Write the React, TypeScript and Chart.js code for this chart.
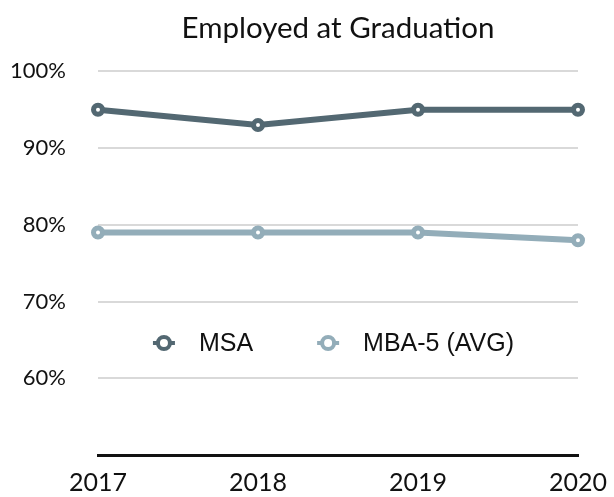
import React, { useEffect, useRef } from "react";
import { Chart, registerables } from "chart.js";

Chart.register(...registerables);

const years = ["2017", "2018", "2019", "2020"];
const msa = [95, 93, 95, 95];
const mba5 = [79, 79, 79, 78];
const seriesNames = ["MSA", "MBA-5 (AVG)"];
const seriesColors = ["#536872", "#93adb9"];
const titleText = "Employed at Graduation";

const legendPlugin = {
  id: "innerLegend",
  afterDraw(chart: any) {
    const { ctx, chartArea, scales } = chart;
    const y = scales.y.getPixelForValue(64.6);
    ctx.save();
    ctx.font = "25px 'Liberation Sans', Arial, sans-serif";
    ctx.textBaseline = "middle";
    const markerToText = 35;
    const textToNext = 75;
    const widths = seriesNames.map((n) => ctx.measureText(n).width);
    const total = 12 + markerToText + widths[0] + textToNext + markerToText + widths[1];
    let x = (chartArea.left + chartArea.right) / 2 - total / 2 - 5 + 12;
    seriesNames.forEach((name, i) => {
      const c = seriesColors[i];
      ctx.strokeStyle = c;
      ctx.lineWidth = 4;
      ctx.beginPath();
      ctx.moveTo(x - 11, y);
      ctx.lineTo(x + 11, y);
      ctx.stroke();
      ctx.beginPath();
      ctx.arc(x, y, 6, 0, Math.PI * 2);
      ctx.fillStyle = "#ffffff";
      ctx.fill();
      ctx.stroke();
      ctx.fillStyle = "#111111";
      ctx.textAlign = "left";
      ctx.fillText(name, x + markerToText, y + 1);
      x = x + markerToText + widths[i] + textToNext;
    });
    ctx.restore();
  },
};

export default function App() {
  const ref = useRef<HTMLCanvasElement>(null);
  useEffect(() => {
    if (!ref.current) return;
    const chart = new Chart(ref.current, {
      type: "line",
      data: {
        labels: years,
        datasets: [
          {
            label: seriesNames[0],
            data: msa,
            borderColor: seriesColors[0],
            backgroundColor: "#ffffff",
            borderWidth: 6,
            pointRadius: 4.5,
            pointBorderWidth: 5,
            pointBackgroundColor: "#ffffff",
            pointBorderColor: seriesColors[0],
            tension: 0,
          },
          {
            label: seriesNames[1],
            data: mba5,
            borderColor: seriesColors[1],
            backgroundColor: "#ffffff",
            borderWidth: 6,
            pointRadius: 4.5,
            pointBorderWidth: 5,
            pointBackgroundColor: "#ffffff",
            pointBorderColor: seriesColors[1],
            tension: 0,
          },
        ],
      },
      options: {
        animation: false,
        responsive: true,
        maintainAspectRatio: false,
        layout: { padding: { left: 0, right: 36, top: 0, bottom: 0 } },
        plugins: {
          legend: { display: false },
          tooltip: { enabled: false },
          title: {
            display: true,
            fullSize: false,
            text: titleText,
            color: "#111111",
            font: { family: "Lato", size: 29.5, weight: "normal" },
            padding: { top: 11, bottom: 25 },
          },
        },
        scales: {
          x: {
            offset: false,
            grid: { display: false, drawTicks: false },
            border: { display: true, color: "#111111", width: 3 },
            ticks: {
              color: "#111111",
              font: { family: "Lato", size: 25 },
              padding: 13,
              maxRotation: 0,
              autoSkip: false,
            },
            afterFit: (s: any) => {
              s.height = 42;
              s.paddingLeft = 0;
              s.paddingRight = 0;
            },
          },
          y: {
            min: 50,
            max: 100,
            border: { display: false },
            grid: {
              drawTicks: false,
              lineWidth: 2,
              color: (ctx: any) => (ctx.tick && ctx.tick.value === 50 ? "rgba(0,0,0,0)" : "#d9d9d9"),
            },
            ticks: {
              stepSize: 10,
              color: "#111111",
              font: { family: "Lato", size: 22 },
              padding: 32,
              callback: (v: any) => (Number(v) === 50 ? "" : v + "%"),
            },
            afterFit: (s: any) => {
              s.width = 98;
              s.paddingTop = 0;
              s.paddingBottom = 0;
            },
          },
        },
      },
      plugins: [legendPlugin],
    });
    return () => chart.destroy();
  }, []);
  return (
    <div style={{ position: "fixed", left: 0, top: 0, width: 614, height: 497, background: "#fff" }}>
      <canvas ref={ref} />
    </div>
  );
}
